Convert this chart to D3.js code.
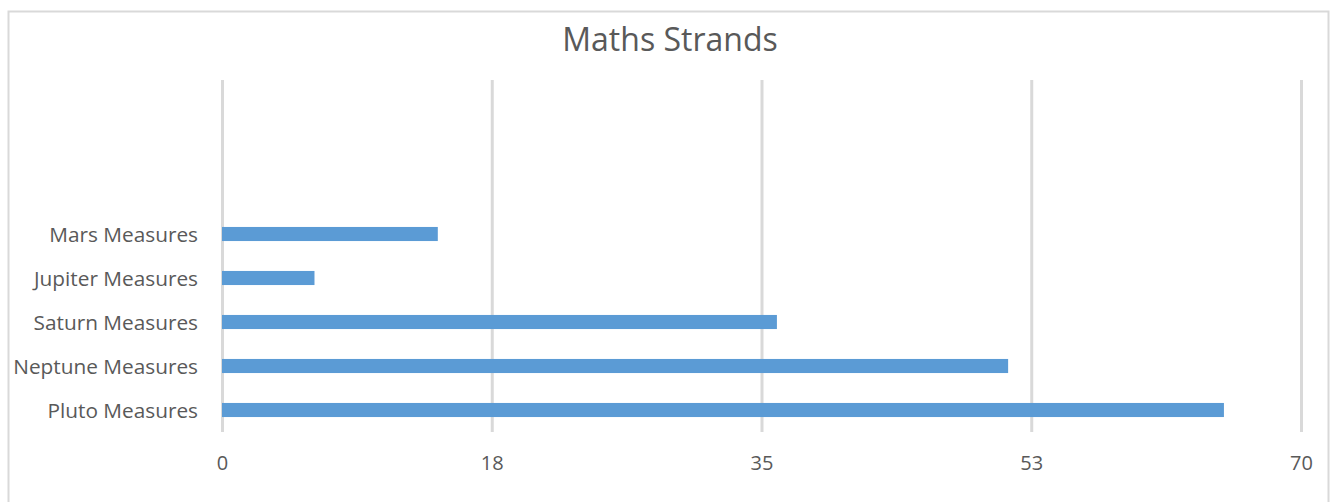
<!DOCTYPE html>
<html>
<head>
<meta charset="utf-8">
<script src="https://cdn.jsdelivr.net/npm/d3@7"></script>
<style>
  html, body { margin: 0; padding: 0; background: #ffffff; }
  svg { display: block; }
  text { font-family: "Open Sans", sans-serif; fill: #595959; }
</style>
</head>
<body>
<svg id="chart" width="1336" height="502"></svg>
<script>
// ---- data ----
const title = "Maths Strands";
const categories = ["Pluto Measures", "Neptune Measures", "Saturn Measures", "Jupiter Measures", "Mars Measures", "", "", ""];
const values = [65, 51, 36, 6, 14, null, null, null];
const tickValues = [0, 17.5, 35, 52.5, 70];
const tickLabels = ["0", "18", "35", "53", "70"];

// ---- layout ----
const W = 1336, H = 502;
const plot = { left: 222, right: 1301, top: 80, bottom: 432 };

const svg = d3.select("#chart");

// outer border
svg.append("rect")
  .attr("x", 8.5).attr("y", 11.5)
  .attr("width", 1320).attr("height", 500)
  .attr("fill", "none")
  .attr("stroke", "#d9d9d9")
  .attr("stroke-width", 2);

// title
svg.append("text")
  .attr("x", 670).attr("y", 51)
  .attr("text-anchor", "middle")
  .style("font-size", "32px")
  .text(title);

// scales
const x = d3.scaleLinear().domain([0, 70]).range([plot.left, plot.right]);
const y = d3.scaleBand()
  .domain(d3.range(categories.length))
  .range([plot.bottom, plot.top])
  .paddingInner(0.68)
  .paddingOuter(0.34);

// gridlines
const gx = d3.axisBottom(x)
  .tickValues(tickValues)
  .tickSize(-(plot.bottom - plot.top))
  .tickFormat("");
const grid = svg.append("g")
  .attr("transform", `translate(0,${plot.bottom})`)
  .call(gx);
grid.select(".domain").remove();
grid.selectAll(".tick line")
  .attr("stroke", "#d9d9d9")
  .attr("stroke-width", 3);

// x tick labels
const xa = d3.axisBottom(x)
  .tickValues(tickValues)
  .tickSize(0)
  .tickPadding(0)
  .tickFormat((d, i) => tickLabels[i]);
const xg = svg.append("g")
  .attr("transform", `translate(0,${plot.bottom + 38})`)
  .call(xa);
xg.select(".domain").remove();
xg.selectAll("text")
  .attr("dy", 0)
  .attr("y", 0)
  .style("font-size", "20px")
  .style("font-family", "'Open Sans', sans-serif")
  .attr("fill", "#595959");

// y axis labels
const ya = d3.axisLeft(y)
  .tickSize(0)
  .tickPadding(24)
  .tickFormat(i => categories[i]);
const yg = svg.append("g")
  .attr("transform", `translate(${plot.left},0)`)
  .call(ya);
yg.select(".domain").remove();
yg.selectAll("text")
  .attr("dy", "0.35em")
  .attr("y", 1)
  .style("font-size", "20.8px")
  .style("font-family", "'Open Sans', sans-serif")
  .attr("fill", "#595959");

// bars
const idx = d3.range(categories.length).filter(i => values[i] != null);
svg.append("g")
  .selectAll("rect")
  .data(idx)
  .join("rect")
  .attr("x", x(0))
  .attr("y", i => y(i))
  .attr("width", i => x(values[i]) - x(0))
  .attr("height", y.bandwidth())
  .attr("fill", "#5b9bd5");
</script>
</body>
</html>
